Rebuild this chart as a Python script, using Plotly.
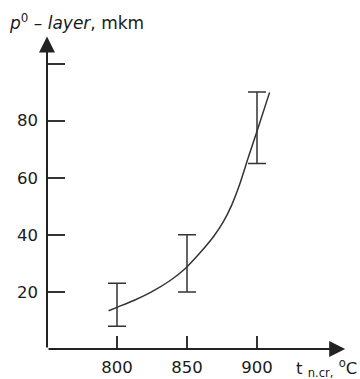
import plotly.graph_objects as go

# Error bar data
bar_temps = [800, 850, 900]
bar_low = [8, 20, 65]
bar_high = [23, 40, 90]

# Smooth curve data
curve_temps = [794, 800, 812, 825, 838, 849, 859, 869, 876, 882, 887, 894, 900, 909]
curve_vals = [13.4, 14.6, 17, 20.1, 24, 28.3, 33.5, 39.4, 44.6, 50.5, 56.8, 67.4, 76.3, 89.9]

x_ticks = [800, 850, 900]
y_ticks = [20, 40, 60, 80, 100]
y_tick_text = ["20", "40", "60", "80", ""]

ink = "#333333"
txt = "#1a1a1a"

centers = [(lo + hi) / 2 for lo, hi in zip(bar_low, bar_high)]
up = [hi - c for hi, c in zip(bar_high, centers)]
down = [c - lo for lo, c in zip(bar_low, centers)]

fig = go.Figure()
fig.add_trace(go.Scatter(
    x=curve_temps, y=curve_vals, mode="lines",
    line=dict(color=ink, width=1.5, shape="spline", smoothing=0.8),
    hoverinfo="skip", showlegend=False,
))
fig.add_trace(go.Scatter(
    x=bar_temps, y=centers, mode="markers",
    marker=dict(size=1, color="rgba(0,0,0,0)"),
    error_y=dict(type="data", symmetric=False, array=up, arrayminus=down,
                 width=9, thickness=1.5, color=ink),
    showlegend=False,
))

font = dict(family="DejaVu Sans", size=16.5, color=txt)

fig.update_layout(
    width=360, height=379,
    margin=dict(l=47, r=12, t=35, b=30, autoexpand=False),
    plot_bgcolor="white", paper_bgcolor="white",
    font=font,
    xaxis=dict(range=[750, 965], showgrid=False, zeroline=False, showline=False,
               tickvals=x_ticks, ticks="inside", ticklen=13, tickwidth=1.5,
               tickcolor=ink, tickfont=font, automargin=False,
               ticklabelstandoff=6),
    yaxis=dict(range=[0, 110], showgrid=False, zeroline=False, showline=False,
               tickvals=y_ticks, ticktext=y_tick_text, ticks="inside",
               ticklen=18, tickwidth=1.5, tickcolor=ink, tickfont=font,
               ticklabelstandoff=8, automargin=False),
)

# axes with arrows
fig.add_annotation(x=963, y=0, ax=750, ay=0, xref="x", yref="y", axref="x", ayref="y",
                   text="", showarrow=True, arrowhead=2, arrowsize=1.6,
                   arrowwidth=2, arrowcolor="#222")
fig.add_annotation(x=750, y=109.5, ax=750, ay=0, xref="x", yref="y", axref="x", ayref="y",
                   text="", showarrow=True, arrowhead=2, arrowsize=1.6,
                   arrowwidth=2, arrowcolor="#222")

# titles
fig.add_annotation(xref="paper", yref="paper", x=0, y=1, xanchor="left", yanchor="middle",
                   xshift=-40, yshift=13, showarrow=False,
                   text="<i>p</i><sup>0</sup> – <i>layer</i>, mkm",
                   font=dict(family="DejaVu Sans", size=17, color=txt))
fig.add_annotation(xref="paper", yref="paper", x=1, y=0, xanchor="right", yanchor="middle",
                   xshift=11, yshift=-19, showarrow=False,
                   text="t <sub>n.cr,</sub> <sup>o</sup>C",
                   font=dict(family="DejaVu Sans", size=16.5, color=txt))

fig.write_html("out.html", config={"displayModeBar": False},
               post_script="document.body.style.margin='0';")
